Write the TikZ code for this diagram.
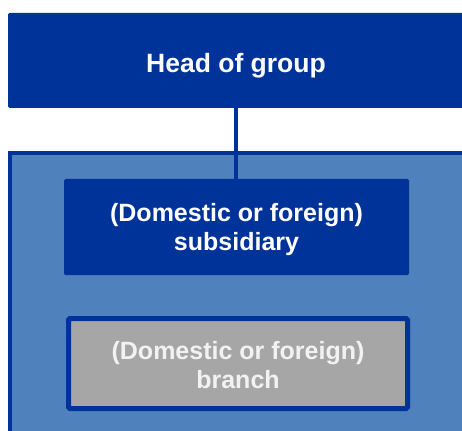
\documentclass[tikz,border=0pt]{standalone}
\usepackage{fontspec}
\setmainfont{Liberation Sans}
\usepackage{xcolor}
\usepackage{tikz}
\usetikzlibrary{positioning}
\definecolor{darkblue}{RGB}{0,51,153}
\definecolor{midblue}{RGB}{79,129,189}
\definecolor{boxgray}{RGB}{166,166,166}
\definecolor{paletext}{RGB}{242,242,242}

\begin{document}
\begin{tikzpicture}[x=1pt,y=-1pt,
  unit/.style={rectangle,rounded corners=1.5pt,align=center,text=white,
    font=\fontsize{25}{29}\selectfont\bfseries,inner sep=0pt},
  headbox/.style={unit,fill=darkblue,minimum width=456pt,minimum height=95pt,
    font=\fontsize{26.5}{30}\selectfont\bfseries,text height=25pt,text depth=0pt},
  subbox/.style={unit,fill=darkblue,minimum width=345pt,minimum height=96pt},
  branchbox/.style={unit,fill=boxgray,draw=darkblue,line width=5pt,text=paletext,
    minimum width=339pt,minimum height=90pt}]
\useasboundingbox (0,0) rectangle (462,430);
%group frame
\draw[draw=darkblue,fill=midblue,line width=4pt] (10,153) rectangle (480,450);
%head of group
\node[headbox] (head) at (236,60.5) {Head of group};
%subsidiary
\node[subbox] (sub) at (236.5,227) {\rule{0pt}{24pt}(Domestic or foreign)\\subsidiary};
%branch
\node[branchbox] (branch) at (238,363.5) {\rule{0pt}{20.5pt}(Domestic or foreign)\\branch};
%connector
\draw[darkblue,line width=4pt] (head.south) -- (head.south |- sub.north);
\end{tikzpicture}
\end{document}
